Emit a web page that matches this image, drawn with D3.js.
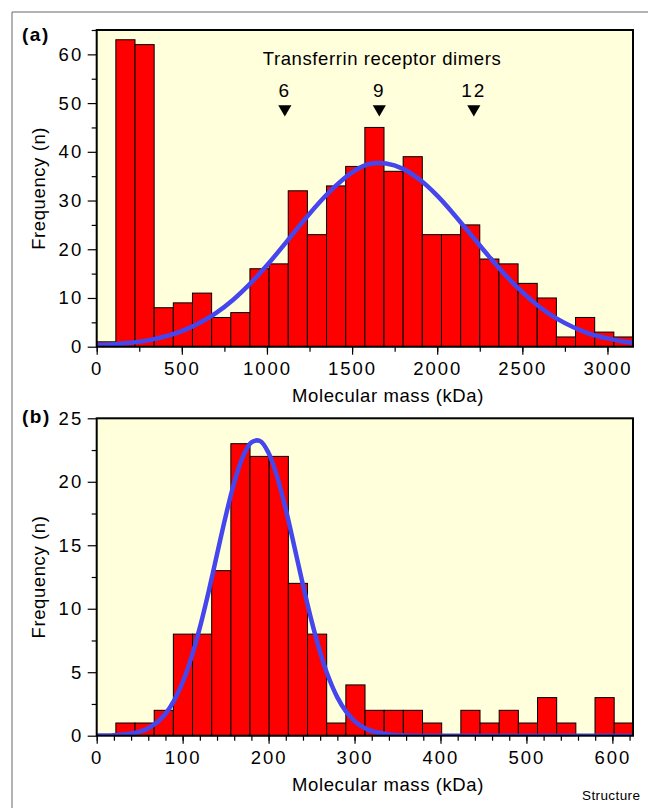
<!DOCTYPE html>
<html>
<head>
<meta charset="utf-8">
<script src="https://d3js.org/d3.v7.min.js"></script>
<style>
  body { margin: 0; background: #fff; }
  text { font-family: "Liberation Sans", Arial, sans-serif; fill: #000; }
  .axis .domain { display: none; }
  .axis line { stroke: #000; stroke-width: 1.2; }
  .axis text { font-size: 18.5px; letter-spacing: 2px; }
  .title { font-size: 18.5px; letter-spacing: 0.6px; }
</style>
</head>
<body>
<script>
// panel (a): whole complexes, 28 bins of 112.5 kDa
var binWidthA = 112.5;
var countsA = [1, 63, 62, 8, 9, 11, 6, 7, 16, 17, 32, 23, 33, 37, 45, 36, 39, 23, 23, 25, 18, 17, 13, 10, 2, 6, 3, 2];
var fitMassA = [0, 100, 200, 300, 400, 500, 600, 700, 800, 900, 1000, 1100, 1200, 1300, 1400, 1500, 1600, 1700,
                1800, 1900, 2000, 2100, 2200, 2300, 2400, 2500, 2600, 2700, 2800, 2900, 3000, 3100, 3150];
var fitFreqA = [0.4, 0.5, 0.8, 1.3, 2.1, 3.2, 4.8, 6.9, 9.6, 12.9, 16.7, 20.9, 25.2, 29.3, 32.9, 35.8, 37.5, 37.6,
                36.5, 34.2, 31.0, 27.1, 22.9, 18.7, 14.7, 11.2, 8.2, 5.8, 4.0, 2.6, 1.7, 1.0, 0.8];
var dimerMass = [1105, 1660, 2215];
var dimerLabel = ['6', '9', '12'];

// panel (b): single dimers, 28 bins of 22.3 kDa
var binWidthB = 22.3;
var countsB = [0, 1, 1, 2, 8, 8, 13, 23, 22, 22, 12, 8, 1, 4, 2, 2, 2, 1, 0, 2, 1, 2, 1, 3, 1, 0, 3, 1];
var fitMassB = [0, 20, 40, 50, 60, 70, 80, 90, 100, 110, 120, 130, 140, 150, 160, 170, 180, 190, 200, 210,
                220, 230, 240, 250, 260, 270, 280, 290, 300, 310, 320, 340, 360, 400, 500, 624];
var fitFreqB = [0.01, 0.04, 0.17, 0.32, 0.59, 1.04, 1.73, 2.77, 4.21, 6.13, 8.51, 11.28, 14.29, 17.27, 19.93, 21.96,
                23.11, 23.21, 22.27, 20.39, 17.83, 14.89, 11.87, 9.04, 6.57, 4.56, 3.02, 1.91, 1.15, 0.67, 0.37,
                0.10, 0.02, 0, 0, 0];

var plotLeft = 96.7, plotRight = 633;

var svg = d3.select('body').append('svg')
    .attr('width', 648)
    .attr('height', 808);

// thin page frame
svg.append('path')
    .attr('d', 'M12,808V12H648')
    .attr('fill', 'none')
    .attr('stroke', '#666')
    .attr('stroke-width', 1);

function range(a, b, step) { return d3.range(a, b + step / 2, step); }

function drawPanel(p) {
  var x = d3.scaleLinear().domain([0, p.xMax]).range([plotLeft, plotRight]);
  var y = d3.scaleLinear().domain([0, p.yMax]).range([p.bottom, p.top]);
  var g = svg.append('g');

  g.append('rect')
      .attr('x', plotLeft).attr('y', p.top)
      .attr('width', plotRight - plotLeft).attr('height', p.bottom - p.top)
      .attr('fill', '#ffffdc');

  g.append('clipPath').attr('id', 'clip' + p.id)
    .append('rect')
      .attr('x', plotLeft).attr('y', p.top)
      .attr('width', plotRight - plotLeft).attr('height', p.bottom - p.top);

  var bins = p.counts.map(function(n, i) { return {i: i, n: n}; })
      .filter(function(d) { return d.n > 0; });
  g.selectAll('.bar')
      .data(bins)
    .enter().append('rect')
      .attr('class', 'bar')
      .attr('x', function(d) { return x(d.i * p.binWidth); })
      .attr('width', function(d) { return x((d.i + 1) * p.binWidth) - x(d.i * p.binWidth); })
      .attr('y', function(d) { return y(d.n); })
      .attr('height', function(d) { return y(0) - y(d.n); })
      .attr('fill', '#ff0000')
      .attr('stroke', '#000')
      .attr('stroke-width', 1);

  var line = d3.line()
      .x(function(d) { return x(d[0]); })
      .y(function(d) { return y(d[1]); })
      .curve(d3.curveCatmullRom);
  g.append('path')
      .datum(d3.zip(p.fitX, p.fitY))
      .attr('clip-path', 'url(#clip' + p.id + ')')
      .attr('d', line)
      .attr('fill', 'none')
      .attr('stroke', '#4646ee')
      .attr('stroke-width', 4.5)
      .attr('stroke-linejoin', 'round');

  g.append('rect')
      .attr('x', plotLeft).attr('y', p.top)
      .attr('width', plotRight - plotLeft).attr('height', p.bottom - p.top)
      .attr('fill', 'none')
      .attr('stroke', '#000')
      .attr('stroke-width', 2);

  // axes: minor ticks, then labelled ticks
  g.append('g').attr('class', 'axis')
      .attr('transform', 'translate(0,' + p.bottom + ')')
      .call(d3.axisBottom(x).tickValues(p.xMinor).tickSize(5).tickFormat(''));
  g.append('g').attr('class', 'axis')
      .attr('transform', 'translate(0,' + p.bottom + ')')
      .call(d3.axisBottom(x).tickValues(p.xMajor).tickSize(8).tickPadding(7).tickFormat(d3.format('d')));
  g.append('g').attr('class', 'axis')
      .attr('transform', 'translate(' + plotLeft + ',0)')
      .call(d3.axisLeft(y).tickValues(p.yMinor).tickSize(5).tickFormat(''));
  g.append('g').attr('class', 'axis')
      .attr('transform', 'translate(' + plotLeft + ',0)')
      .call(d3.axisLeft(y).tickValues(p.yMajor).tickSize(9).tickPadding(4.5).tickFormat(d3.format('d')));

  g.append('text')
      .attr('class', 'title')
      .attr('transform', 'translate(45,' + (p.top + p.bottom) / 2 + ') rotate(-90)')
      .attr('text-anchor', 'middle')
      .text('Frequency (n)');
  g.append('text')
      .attr('class', 'title')
      .attr('x', 388).attr('y', p.bottom + p.xTitleDy)
      .attr('text-anchor', 'middle')
      .text('Molecular mass (kDa)');
  g.append('text')
      .attr('x', 22).attr('y', p.top + p.tagDy)
      .attr('font-size', '19px')
      .attr('font-weight', 'bold')
      .attr('letter-spacing', '1.5px')
      .text(p.tag);

  return {x: x, y: y, g: g};
}

var a = drawPanel({
  id: 'a', tag: '(a)', top: 30, bottom: 346.7, xMax: 3150, yMax: 65,
  counts: countsA, binWidth: binWidthA, fitX: fitMassA, fitY: fitFreqA,
  xMajor: range(0, 3000, 500), xMinor: range(0, 3000, 250),
  yMajor: range(0, 60, 10), yMinor: range(5, 65, 10),
  xTitleDy: 55, tagDy: 11
});

var b = drawPanel({
  id: 'b', tag: '(b)', top: 418.3, bottom: 735.7, xMax: 624, yMax: 25,
  counts: countsB, binWidth: binWidthB, fitX: fitMassB, fitY: fitFreqB,
  xMajor: range(0, 600, 100), xMinor: range(0, 620, 20),
  yMajor: range(0, 25, 5), yMinor: range(2.5, 22.5, 5),
  xTitleDy: 55, tagDy: 4.5
});

// dimer markers in panel (a)
a.g.append('text')
    .attr('class', 'title')
    .attr('x', 382).attr('y', 65)
    .attr('text-anchor', 'middle')
    .text('Transferrin receptor dimers');
var marks = a.g.selectAll('.dimer')
    .data(d3.zip(dimerMass, dimerLabel))
  .enter().append('g')
    .attr('class', 'dimer')
    .attr('transform', function(d) { return 'translate(' + a.x(d[0]) + ',0)'; });
marks.append('text')
    .attr('y', 96.5)
    .attr('text-anchor', 'middle')
    .attr('font-size', '19px')
    .attr('letter-spacing', '2px')
    .text(function(d) { return d[1]; });
marks.append('path')
    .attr('d', d3.symbol().type(d3.symbolTriangle).size(75))
    .attr('transform', 'translate(0,109) rotate(180)')
    .attr('fill', '#000');

svg.append('text')
    .attr('x', 582).attr('y', 800)
    .attr('font-size', '13.5px')
    .attr('letter-spacing', '0.4px')
    .text('Structure');
</script>
</body>
</html>
